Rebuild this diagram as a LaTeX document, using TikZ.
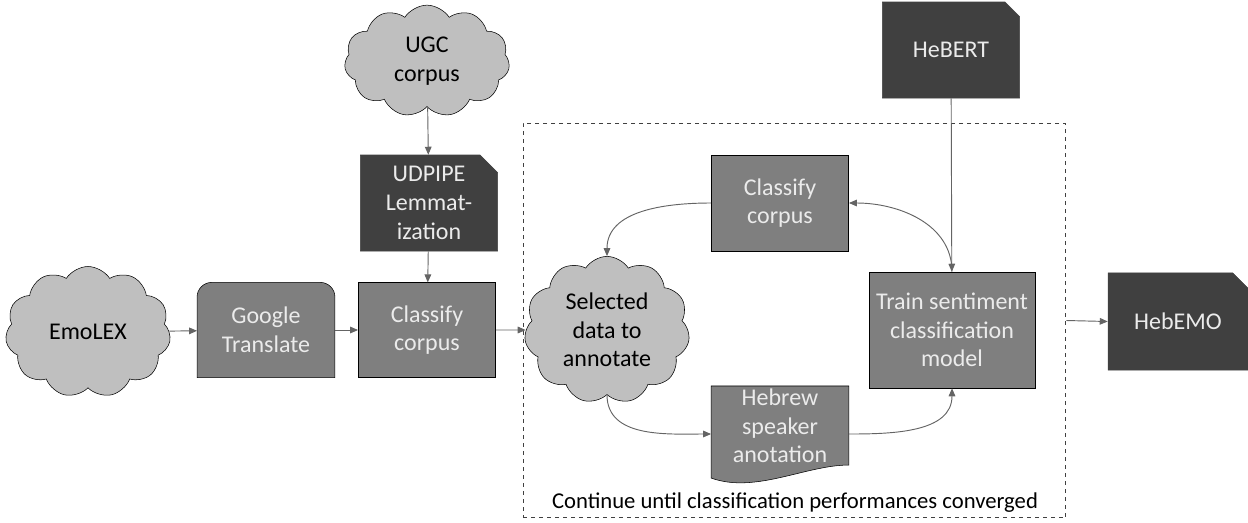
\documentclass[tikz,border=0pt]{standalone}
\usepackage{fontspec}
\setmainfont{Carlito}
\usetikzlibrary{
    arrows.meta,
    calc,
    shapes.symbols,
    shapes.misc,
    backgrounds
}
\definecolor{cloudgray}{RGB}{191,191,191}
\definecolor{boxgray}{RGB}{127,127,127}
\definecolor{inkdark}{RGB}{64,64,64}
\definecolor{linegray}{RGB}{100,100,100}
\definecolor{paletext}{RGB}{235,235,235}

\begin{document}
\begin{tikzpicture}[
    x=0.75pt, y=-0.75pt,
    every node/.style={font=\fontsize{18}{21.5}\selectfont, align=center, inner sep=2pt},
    cloudnode/.style={
        cloud,
        cloud puffs=11,
        cloud puff arc=115,
        draw=black,
        fill=cloudgray,
        text=black,
        minimum width=124pt,
        minimum height=#1
    },
    procbox/.style={
        rectangle,
        draw=black,
        fill=boxgray,
        text=paletext,
        minimum width=103pt,
        minimum height=72pt
    },
    toolbox/.style={
        chamfered rectangle,
        chamfered rectangle corners=north east,
        chamfered rectangle xsep=10pt,
        draw=inkdark,
        fill=inkdark,
        text=paletext,
        minimum width=103pt,
        minimum height=72pt
    },
    flow/.style={
        draw=linegray,
        line width=0.7pt,
        -{Triangle[length=6pt, width=5pt]}
    }
]
    \useasboundingbox (0,0) rectangle (1248,522);

    % Loop frame
    \node[draw=inkdark, dashed, line width=0.7pt, minimum width=407pt, minimum height=296pt,
          inner sep=0pt] (loop) at (794.5,320.5) {};
    \node[text=black, font=\fontsize{17}{20}\selectfont] (note) at (795,503)
        {Continue until classification performances converged};

    % Inputs
    \node[cloudnode=79pt] (emolex) at (88,332) {EmoLEX};
    \node[cloudnode=81pt] (ugc) at (427,61) {UGC\\corpus};
    \node[toolbox] (udpipe) at (429,203) {UDPIPE\\Lemmat-\\ization};
    \node[toolbox] (hebert) at (951,50) {HeBERT};

    % Translation and first classification
    \node[minimum width=103pt, minimum height=71pt, text=paletext] (google) at (266,330) {Google\\Translate};
    \node[procbox, minimum height=71pt] (classA) at (427,330) {Classify\\corpus};

    % Annotation loop
    \node[cloudnode=87pt] (selected) at (607,330) {Selected\\data to\\annotate};
    \node[procbox] (classB) at (780,203) {Classify\\corpus};
    \node[procbox, minimum width=124.5pt, minimum height=87pt] (train) at (952,330)
        {Train sentiment\\classification\\model};
    \node[minimum width=103pt, minimum height=57pt, text=paletext] (speaker) at (780,426)
        {Hebrew\\speaker\\anotation};

    % Output
    \node[toolbox, minimum width=105pt, minimum height=73pt, chamfered rectangle xsep=13pt]
        (hebemo) at (1178,321.5) {HebEMO};

    % Shapes drawn behind their texts
    \begin{scope}[on background layer]
        \draw[draw=black, fill=boxgray]
            (google.south west) -- ([yshift=-11pt]google.north west)
            arc[start angle=180, end angle=90, radius=11pt]
            -- ([xshift=-11pt]google.north east)
            arc[start angle=90, end angle=0, radius=11pt]
            -- (google.south east) -- cycle;
        \draw[draw=black, fill=boxgray]
            (speaker.north west) -- (speaker.north east)
            -- ($(speaker.south east)+(0,-1)$)
            .. controls +(-43,0) and +(44,16) .. ($(speaker.south west)+(0,12)$)
            -- cycle;
    \end{scope}

    % Connectors
    \draw[flow] (emolex) -- (google);
    \draw[flow] (google) -- (classA);
    \draw[flow] (classA) -- (selected);
    \draw[flow] (ugc) -- (udpipe);
    \draw[flow] (udpipe) -- (classA);
    \draw[flow] (hebert) -- (train);
    \draw[flow] (classB.west) to[out=180, in=90] (selected.north);
    \draw[flow] (selected.south) to[out=-90, in=180] ([yshift=-6pt]speaker.west);
    \draw[flow] ([yshift=-6pt]speaker.east) to[out=0, in=-90] (train.south);
    \draw[flow] (train.north) to[out=90, in=0] (classB.east);
    \draw[flow] (loop.east) -- (hebemo.west);

\end{tikzpicture}
\end{document}
